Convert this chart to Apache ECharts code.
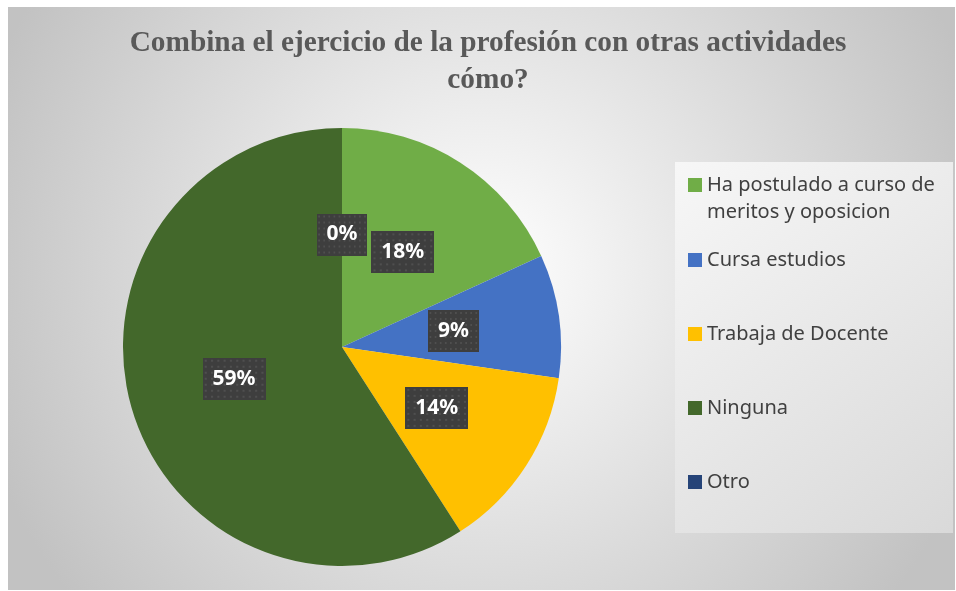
<!DOCTYPE html>
<html>
<head>
<meta charset="utf-8">
<script src="https://cdn.jsdelivr.net/npm/echarts@6/dist/echarts.min.js"></script>
<style>
  html, body { margin: 0; padding: 0; background: #ffffff; }
  #pieChart { position: absolute; left: 8px; top: 7px; width: 947px; height: 583px; }
</style>
</head>
<body>
<div id="pieChart"></div>
<script>
// datos del grafico
const categorias = [
  "Ha postulado a curso de meritos y oposicion",
  "Cursa estudios",
  "Trabaja de Docente",
  "Ninguna",
  "Otro",
];
// linea en blanco arriba para que el icono quede en la primera linea
const etiquetasLeyenda = [
  " \nHa postulado a curso de\nmeritos y oposicion",
  "Cursa estudios",
  "Trabaja de Docente",
  "Ninguna",
  "Otro",
];
const valores = [4, 2, 3, 13, 0];
const colores = ["#70AD47", "#4472C4", "#FFC000", "#43682B", "#264478"];

// fondo punteado de las etiquetas
function patron(w, h) {
  const c = document.createElement("canvas");
  c.width = w;
  c.height = h;
  const ctx = c.getContext("2d");
  ctx.fillStyle = "#3e3e3e";
  ctx.fillRect(0, 0, w, h);
  ctx.fillStyle = "#4f4f4f";
  for (let y = 2; y < h; y += 6) {
    for (let x = 2; x < w; x += 6) {
      ctx.fillRect(x, y, 2, 2);
    }
  }
  return c;
}
const fondoEtiqueta = patron(60, 42);

// posicion de cada leyenda (coordenadas del contenedor)
const leyendaTop = [137.5, 239.5, 313.5, 387.5, 461.5];

const leyendas = categorias.map((nombre, i) => ({
  data: [nombre],
  orient: "vertical",
  left: 680,
  top: leyendaTop[i],
  padding: 0,
  itemWidth: 14,
  itemHeight: 14,
  icon: "rect",
  selectedMode: false,
  formatter: () => etiquetasLeyenda[i],
  textStyle: {
    fontFamily: "Noto Sans",
    fontSize: 20,
    color: "#404040",
    lineHeight: 27,
  },
}));

const datos = categorias.map((nombre, i) => ({
  name: nombre,
  value: valores[i],
  itemStyle: { color: colores[i] },
}));

const option = {
  backgroundColor: new echarts.graphic.RadialGradient(0.5, 0.45, 0.9, [
    { offset: 0, color: "#ffffff" },
    { offset: 1, color: "#c2c2c2" },
  ]),
  title: {
    text: "Combina el ejercicio de la profesión con otras actividades\ncómo?",
    left: 480,
    top: 18,
    padding: 0,
    textAlign: "center",
    textStyle: {
      fontFamily: "Liberation Serif",
      fontWeight: "bold",
      fontSize: 29.3,
      lineHeight: 37,
      color: "#595959",
    },
  },
  graphic: [
    {
      type: "rect",
      left: 667,
      top: 155,
      z: -1,
      shape: { width: 278, height: 371 },
      style: {
        fill: new echarts.graphic.LinearGradient(0, 0, 1, 1, [
          { offset: 0, color: "#f7f7f7" },
          { offset: 1, color: "#d9d9d9" },
        ]),
      },
    },
  ],
  legend: leyendas,
  series: [
    {
      type: "pie",
      center: [334, 340],
      radius: 219,
      startAngle: 90,
      clockwise: true,
      avoidLabelOverlap: false,
      silent: true,
      data: datos,
      label: {
        show: true,
        position: "inside",
        formatter: (p) => Math.round(p.percent) + "%",
        fontFamily: "Noto Sans",
        fontWeight: "bold",
        fontSize: 21,
        lineHeight: 26,
        color: "#ffffff",
        padding: [8, 10],
        backgroundColor: { image: fondoEtiqueta },
        shadowColor: "rgba(0,0,0,0.45)",
        shadowBlur: 6,
        shadowOffsetX: 3,
        shadowOffsetY: 3,
      },
      labelLine: { show: false },
      emphasis: { disabled: true },
    },
  ],
};

const chartObj = echarts.init(document.getElementById("pieChart"));
chartObj.setOption(option);
window.onresize = chartObj.resize;
</script>
</body>
</html>
